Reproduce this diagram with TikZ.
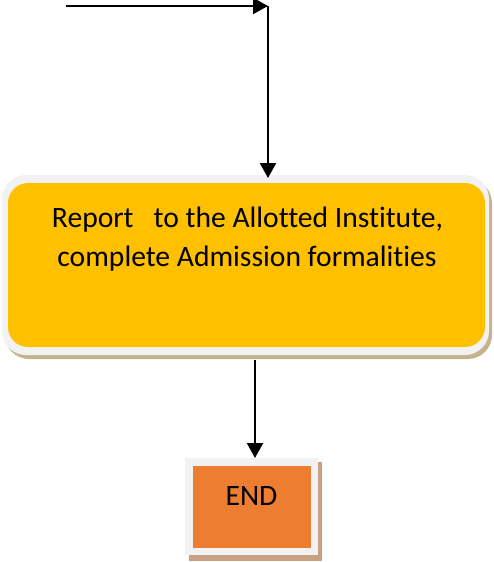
\documentclass[tikz,border=0pt]{standalone}
\usepackage{fontspec}
\setmainfont[Ligatures=NoCommon]{Carlito}
\usetikzlibrary{arrows.meta}
\definecolor{boxgold}{HTML}{FFC000}
\definecolor{boxorange}{HTML}{ED7D31}
\definecolor{frame}{HTML}{F2F2F2}
\definecolor{shadowtan}{HTML}{C4B48C}
\definecolor{shadowbrown}{HTML}{C8A084}
\tikzset{
  conn/.style={line width=2.2pt, -{Triangle[length=15pt,width=16pt]}},
  lbl/.style={font=\fontsize{29.6}{40}\selectfont, inner sep=0pt, anchor=base},
}
\begin{document}
\begin{tikzpicture}[x=1pt,y=-1pt]
\useasboundingbox (0,0) rectangle (493,562);
% main box
\fill[shadowtan, rounded corners=24pt] (5,179) rectangle (492,359);
\fill[frame, rounded corners=24pt] (2,175) rectangle (489,355);
\node (main) [fill=boxgold, rounded corners=20pt, minimum width=477pt, minimum height=164pt, inner sep=0pt] at (246.5,265) {};
\node (l1) [lbl] at (247.5,227) {Report\ \ \ to the Allotted Institute,};
\node (l2) [lbl] at (247,266) {complete Admission formalities};
% end box
\fill[shadowbrown] (189,462) rectangle (322,561);
\fill[frame] (185,458) rectangle (318,555);
\node (endb) [fill=boxorange, minimum width=118pt, minimum height=82pt, inner sep=0pt] at (252,507) {};
\node (endt) [lbl] at (251.5,505) {END};
% connectors
\coordinate (start) at (66,6);
\coordinate (corner) at (268,6);
\coordinate (mtop) at (268,178);
\coordinate (mbot) at (255,360);
\coordinate (etop) at (255,458);
\draw[conn] (start) -- (corner);
\draw[conn] (corner) -- (mtop);
\draw[conn] (mbot) -- (etop);
\end{tikzpicture}
\end{document}
